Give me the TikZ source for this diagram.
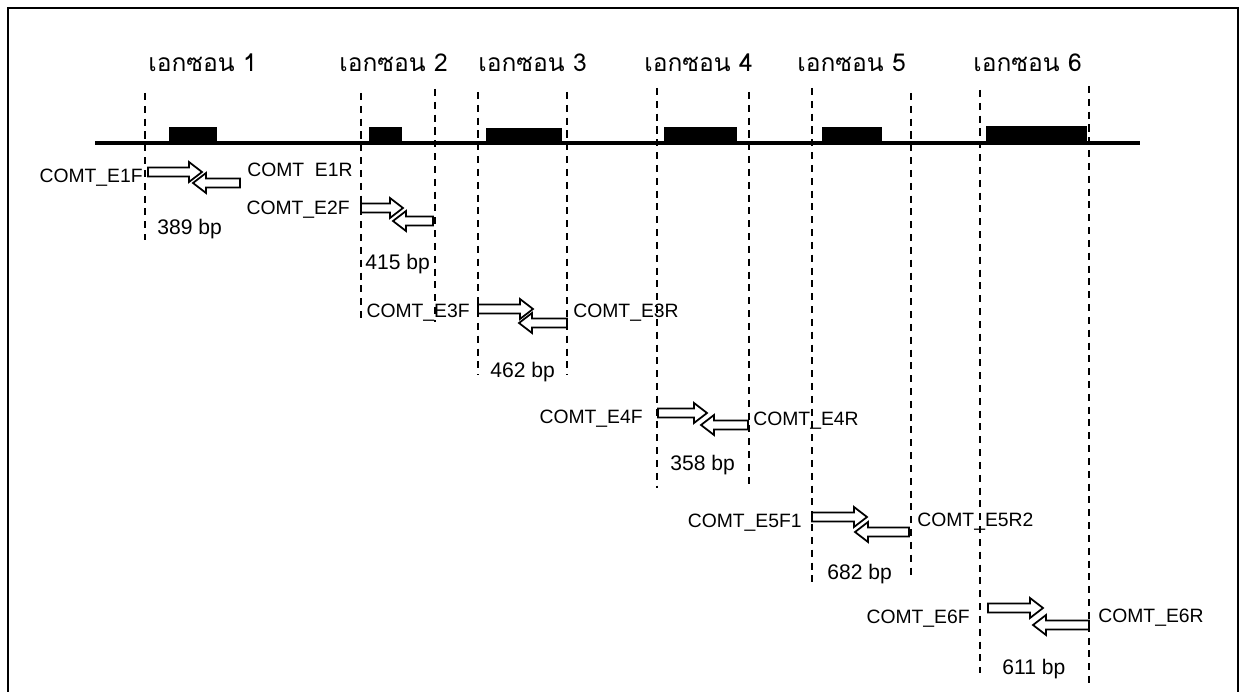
\documentclass[tikz,border=0pt]{standalone}
\usepackage{fontspec}
\setmainfont{Liberation Sans}
\newfontfamily\thaifont[Script=Thai]{Loma}
\usetikzlibrary{positioning}

\begin{document}
\begin{tikzpicture}[x=0.02cm,y=-0.02cm,
  primer/.style={draw, line width=1pt, fill=white, line join=miter},
  lbl/.style={font=\fontsize{11}{13}\selectfont, inner sep=0pt},
  size/.style={font=\fontsize{12}{14}\selectfont, inner sep=0pt, anchor=base west},
  cut/.style={line width=1.2pt, dash pattern=on 4pt off 3.3pt},
  exontitle/.style={font=\thaifont\fontsize{14}{16}\selectfont, inner sep=0pt, anchor=base west}]
\useasboundingbox (0,0) rectangle (1243,692);
\draw[line width=1.4pt] (8,710) -- (8,8) -- (1238,8) -- (1238,710);

% gene line and exons
\draw[line width=2pt] (95,143) -- (1140,143);
\foreach \a/\b/\t in {169/217/127, 369/402/127, 486/562/128, 664/737/127, 822/882/127, 986/1087/126} {
  \fill (\a,\t) rectangle (\b,143);
}
\node[exontitle] (ex1) at (148,72) {เอกซอน 1};
\node[exontitle] (ex2) at (339,72) {เอกซอน 2};
\node[exontitle] (ex3) at (478,72) {เอกซอน 3};
\node[exontitle] (ex4) at (644,72) {เอกซอน 4};
\node[exontitle] (ex5) at (797,72) {เอกซอน 5};
\node[exontitle] (ex6) at (973,72) {เอกซอน 6};

% amplicon borders
\foreach \x/\t/\b in {145/93/240, 361/93/322, 435/89/322, 478/92/375, 567/92/375,
                      657/88/488, 749/92/488, 812/88/582, 911/93/577, 980/90/673, 1089/86/683} {
  \draw[cut] (\x,\t) -- (\x,\b);
}

% primer pairs
\foreach \a/\b/\y/\d/\c/\z in {148/202/172/240/193/183, 361/403/208/433/393/221,
                               478/533/309/567/519/323, 658/707/413/748/701/425,
                               812/867/517/909/855/532, 988/1043/608/1089/1033/625} {
  \draw[primer] (\a,{\y-4.5}) -- ({\b-13},{\y-4.5}) -- ({\b-13},{\y-10}) -- (\b,\y)
    -- ({\b-13},{\y+10}) -- ({\b-13},{\y+4.5}) -- (\a,{\y+4.5}) -- cycle;
  \draw[primer] (\d,{\z-4.5}) -- ({\c+13},{\z-4.5}) -- ({\c+13},{\z-10}) -- (\c,\z)
    -- ({\c+13},{\z+10}) -- ({\c+13},{\z+4.5}) -- (\d,{\z+4.5}) -- cycle;
}

% primer names and sizes
\node[lbl, anchor=base east] (e1f) at (143,183) {COMT\_E1F};
\node[lbl, anchor=base west] (e1r) at (247,177) {COMT\phantom{\_}E1R};
\node[size] (bp1) at (157,235) {389 bp};
\node[lbl, anchor=base east] (e2f) at (350,215) {COMT\_E2F};
\node[size] (bp2) at (365,270) {415 bp};
\node[lbl, anchor=base east] (e3f) at (470,317) {COMT\_E3F};
\node[lbl, anchor=base west] (e3r) at (573,317) {COMT\_E3R};
\node[size] (bp3) at (490,377) {462 bp};
\node[lbl, anchor=base east] (e4f) at (643,423) {COMT\_E4F};
\node[lbl, anchor=base west] (e4r) at (753,425) {COMT\_E4R};
\node[size] (bp4) at (670,470) {358 bp};
\node[lbl, anchor=base east] (e5f) at (802,527) {COMT\_E5F1};
\node[lbl, anchor=base west] (e5r) at (917,526) {COMT\_E5R2};
\node[size] (bp5) at (827,579) {682 bp};
\node[lbl, anchor=base east] (e6f) at (970,623) {COMT\_E6F};
\node[lbl, anchor=base west] (e6r) at (1098,622) {COMT\_E6R};
\node[size] (bp6) at (1002,674) {611 bp};
\end{tikzpicture}
\end{document}
